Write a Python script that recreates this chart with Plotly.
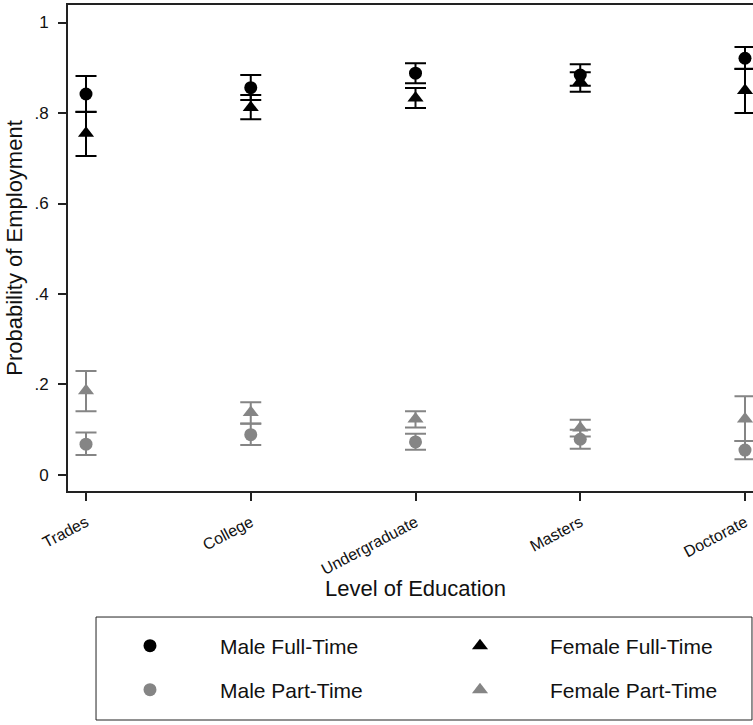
import plotly.graph_objects as go

categories = ["Trades", "College", "Undergraduate", "Masters", "Doctorate"]
x_pos = [1, 2, 3, 4, 5]

male_ft = [0.842, 0.856, 0.888, 0.884, 0.921]
male_ft_lo = [0.802, 0.829, 0.866, 0.860, 0.897]
male_ft_hi = [0.882, 0.884, 0.910, 0.908, 0.946]

female_ft = [0.755, 0.812, 0.833, 0.869, 0.850]
female_ft_lo = [0.705, 0.786, 0.811, 0.847, 0.800]
female_ft_hi = [0.803, 0.840, 0.855, 0.890, 0.898]

male_pt = [0.068, 0.089, 0.073, 0.079, 0.055]
male_pt_lo = [0.044, 0.066, 0.056, 0.058, 0.035]
male_pt_hi = [0.094, 0.114, 0.091, 0.100, 0.075]

female_pt = [0.186, 0.138, 0.124, 0.104, 0.124]
female_pt_lo = [0.141, 0.113, 0.105, 0.085, 0.075]
female_pt_hi = [0.230, 0.161, 0.141, 0.122, 0.174]

y_tickvals = [0, 0.2, 0.4, 0.6, 0.8, 1]
y_ticktext = ["0", ".2", ".4", ".6", ".8", "1"]

x_title = "Level of Education"
y_title = "Probability of Employment"

BLACK = "#000000"
GRAY = "#858585"
TEXT = "#111111"
FONT = "Liberation Sans, Arial, sans-serif"

fig = go.Figure()


def add_series(name, vals, lo, hi, color, symbol, size, legend):
    fig.add_trace(go.Scatter(
        x=x_pos, y=vals, mode="markers", name=name, legend=legend,
        marker=dict(color=color, symbol=symbol, size=size, line=dict(width=0)),
        error_y=dict(type="data", symmetric=False,
                     array=[h - v for h, v in zip(hi, vals)],
                     arrayminus=[v - l for v, l in zip(vals, lo)],
                     color=color, thickness=2, width=10.5),
    ))


add_series("Male Full-Time", male_ft, male_ft_lo, male_ft_hi, BLACK, "circle", 13, "legend")
add_series("Female Full-Time", female_ft, female_ft_lo, female_ft_hi, BLACK, "triangle-up", 14, "legend")
add_series("Male Part-Time", male_pt, male_pt_lo, male_pt_hi, GRAY, "circle", 13, "legend2")
add_series("Female Part-Time", female_pt, female_pt_lo, female_pt_hi, GRAY, "triangle-up", 14, "legend2")

legend_common = dict(
    orientation="h", xanchor="left", yanchor="middle",
    font=dict(family=FONT, size=21, color=TEXT),
    itemwidth=130, entrywidth=185, bgcolor="rgba(0,0,0,0)", borderwidth=0,
    itemclick=False, itemdoubleclick=False,
)

fig.update_layout(
    width=753, height=725,
    margin=dict(l=68, r=0, t=5, b=234),
    paper_bgcolor="white", plot_bgcolor="white",
    font=dict(family=FONT, color=TEXT),
    showlegend=True,
    legend=dict(x=0.0175, y=-0.3189, **legend_common),
    legend2=dict(x=0.0175, y=-0.4095, **legend_common),
    xaxis=dict(
        range=[0.8907, 5.0486], tickvals=x_pos, ticktext=categories,
        tickangle=-28, tickfont=dict(size=16, family=FONT, color=TEXT),
        ticks="outside", ticklen=8, tickwidth=1.5, tickcolor="#222222",
        showline=True, linecolor="#222222", linewidth=2, mirror=True,
        showgrid=False, zeroline=False, ticklabelstandoff=6,
    ),
    yaxis=dict(
        range=[-0.0354, 1.0387], tickvals=y_tickvals, ticktext=y_ticktext,
        tickfont=dict(size=17, family=FONT, color=TEXT),
        ticks="outside", ticklen=8, tickwidth=1.5, tickcolor="#222222",
        showline=True, linecolor="#222222", linewidth=2,
        showgrid=False, zeroline=False, ticklabelstandoff=6,
        title=dict(text=y_title, font=dict(size=22, family=FONT, color=TEXT), standoff=6),
    ),
    annotations=[dict(text=x_title, xref="paper", yref="paper", x=0.5073, y=-0.2016,
                      xanchor="center", yanchor="middle", showarrow=False,
                      font=dict(size=22, family=FONT, color=TEXT))],
    shapes=[dict(type="rect", xref="paper", yref="paper",
                 x0=0.0409, x1=0.9985, y0=-0.2593, y1=-0.4712,
                 line=dict(color="#222222", width=1), fillcolor="rgba(0,0,0,0)")],
)

fig.write_html("out.html")
